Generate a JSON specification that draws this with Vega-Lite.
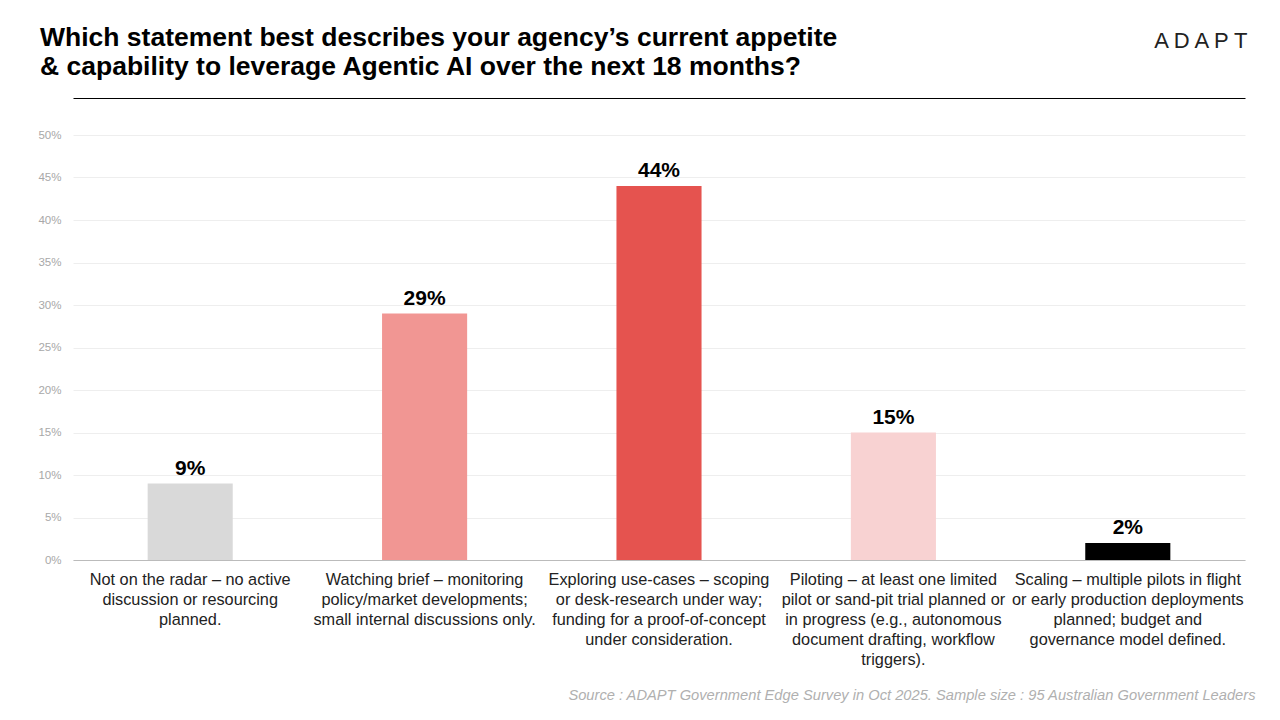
{
  "$schema": "https://vega.github.io/schema/vega-lite/v6.json",
  "autosize": {"type": "none"},
  "width": 1172,
  "height": 425,
  "padding": {"left": 73, "top": 135, "right": 35, "bottom": 160},
  "background": "#ffffff",
  "config": {
    "font": "Liberation Sans",
    "view": {"stroke": null}
  },
  "title": {
    "text": ["Which statement best describes your agency’s current appetite", "& capability to leverage Agentic AI over the next 18 months?"],
    "anchor": "start",
    "frame": "group",
    "dx": -33,
    "offset": -51,
    "fontSize": 26.5,
    "fontWeight": "bold",
    "font": "Liberation Sans",
    "color": "#000000",
    "lineHeight": 29
  },
  "data": {
    "values": [
      {"cat": "Not on the radar – no active\ndiscussion or resourcing\nplanned.", "value": 0.09, "color": "#d9d9d9", "order": 1},
      {"cat": "Watching brief – monitoring\npolicy/market developments;\nsmall internal discussions only.", "value": 0.29, "color": "#f19693", "order": 2},
      {"cat": "Exploring use-cases – scoping\nor desk-research under way;\nfunding for a proof-of-concept\nunder consideration.", "value": 0.44, "color": "#e5534f", "order": 3},
      {"cat": "Piloting – at least one limited\npilot or sand-pit trial planned or\nin progress (e.g., autonomous\ndocument drafting, workflow\ntriggers).", "value": 0.15, "color": "#f8d2d2", "order": 4},
      {"cat": "Scaling – multiple pilots in flight\nor early production deployments\nplanned; budget and\ngovernance model defined.", "value": 0.02, "color": "#000000", "order": 5}
    ]
  },
  "resolve": {"axis": {"x": "independent"}},
  "layer": [
    {
      "mark": {"type": "bar"},
      "encoding": {
        "x": {
          "field": "cat",
          "type": "nominal",
          "sort": {"field": "order"},
          "scale": {"paddingInner": 0.637, "paddingOuter": 0.3185},
          "axis": {
            "orient": "bottom",
            "labelAngle": 0,
            "labelExpr": "split(datum.label, '\\n')",
            "labelFontSize": 16.3,
            "labelColor": "#222222",
            "labelLineHeight": 20,
            "labelPadding": 11,
            "labelBaseline": "top",
            "labelLimit": 300,
            "ticks": false,
            "domainColor": "#bbbbbb",
            "domainWidth": 1,
            "title": "Source : ADAPT Government Edge Survey in Oct 2025. Sample size : 95 Australian Government Leaders",
            "titleFontStyle": "italic",
            "titleFontWeight": "normal",
            "titleFontSize": 14.7,
            "titleColor": "#b0b0b0",
            "titleAlign": "right",
            "titleAnchor": null,
            "titleX": 1182,
            "titleY": 135,
            "titleBaseline": "middle"
          }
        },
        "y": {
          "field": "value",
          "type": "quantitative",
          "scale": {"domain": [0, 0.5]},
          "axis": {
            "values": [0, 0.05, 0.1, 0.15, 0.2, 0.25, 0.3, 0.35, 0.4, 0.45, 0.5],
            "format": ".0%",
            "labelFontSize": 11.5,
            "labelColor": "#a8a8a8",
            "labelPadding": 12,
            "ticks": false,
            "domain": false,
            "gridColor": "#eeeeee",
            "gridWidth": 1,
            "title": null
          }
        },
        "color": {"field": "color", "type": "nominal", "scale": null, "legend": null}
      }
    },
    {
      "mark": {"type": "text", "baseline": "bottom", "dy": -5, "fontSize": 21, "fontWeight": "bold", "color": "#000000"},
      "encoding": {
        "x": {
          "field": "cat",
          "type": "nominal",
          "sort": {"field": "order"},
          "axis": {
            "orient": "top",
            "offset": 37,
            "labels": false,
            "ticks": false,
            "grid": false,
            "domainColor": "#000000",
            "domainWidth": 1,
            "title": "A D A P T",
            "titleFontSize": 22,
            "titleFontWeight": "normal",
            "titleColor": "#222222",
            "titleAlign": "right",
            "titleAnchor": null,
            "titleX": 1174,
            "titleY": -58,
            "titleBaseline": "middle"
          }
        },
        "y": {"field": "value", "type": "quantitative"},
        "text": {"field": "value", "type": "quantitative", "format": ".0%"}
      }
    }
  ]
}
